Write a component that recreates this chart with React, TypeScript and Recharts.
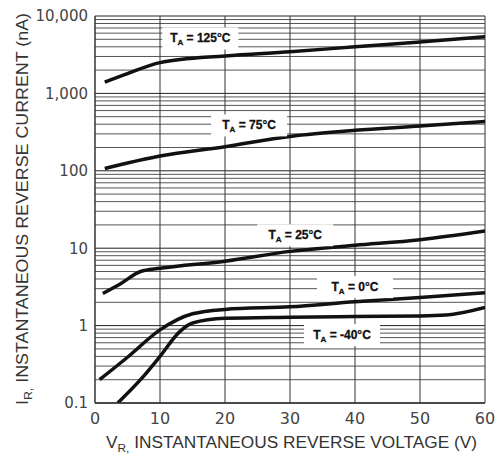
import React from "react";
import { LineChart, Line, XAxis, YAxis, ReferenceLine, ReferenceDot } from "recharts";

// Reverse current (nA) vs reverse voltage (V), one curve per ambient temperature.
const t125V = [1.5, 5, 10, 20, 30, 40, 50, 60];
const t125I = [1400, 1800, 2500, 3050, 3450, 4000, 4600, 5400];

const t75V = [1.5, 5, 10, 20, 30, 40, 50, 60];
const t75I = [107, 126, 155, 205, 278, 333, 378, 435];

const t25V = [1.2, 4, 7, 10, 20, 30, 40, 50, 60];
const t25I = [2.6, 3.5, 5, 5.5, 6.8, 9.1, 10.9, 12.9, 16.7];

const t0V = [0.7, 5, 10, 15, 20, 30, 40, 50, 60];
const t0I = [0.2, 0.39, 0.88, 1.42, 1.62, 1.75, 2.03, 2.3, 2.65];

const tm40V = [3.5, 7, 10, 13, 15, 20, 30, 40, 50, 54, 60];
const tm40I = [0.1, 0.2, 0.4, 0.83, 1.08, 1.24, 1.28, 1.31, 1.33, 1.37, 1.72];

const xTicks = [0, 10, 20, 30, 40, 50, 60];
const yTicks = [0.1, 1, 10, 100, 1000, 10000];
const minorMult = [2, 3, 4, 5, 6, 7, 8, 9];

// label text + where it sits (in data units)
const labelTemps = ["125", "75", "25", "0", "-40"];
const labelV = [16.2, 23.7, 30.8, 40, 38];
const labelI = [5130, 386, 14.7, 3.14, 0.754];

const series = [
  { key: "125", v: t125V, i: t125I },
  { key: "75", v: t75V, i: t75I },
  { key: "25", v: t25V, i: t25I },
  { key: "0", v: t0V, i: t0I },
  { key: "-40", v: tm40V, i: tm40I },
].map((s) => ({ key: s.key, data: s.v.map((v, k) => ({ v, i: s.i[k] })) }));

const minorLines: number[] = [];
for (let d = 0.1; d < 10000; d *= 10) {
  minorMult.forEach((m) => minorLines.push(+(d * m).toPrecision(3)));
}

const fmtY = (n: number) => (n >= 1000 ? n.toLocaleString("en-US") : String(n));

const FONT = "'DejaVu Sans', sans-serif";
const TITLE_FONT = "'Liberation Sans', Arial, sans-serif";

function TempLabel(props: any) {
  const { cx, cy, temp } = props;
  const w = 76;
  return (
    <g>
      <rect x={cx - w / 2} y={cy - 11} width={w} height={22} fill="#fff" />
      <text
        x={cx}
        y={cy + 4}
        textAnchor="middle"
        fontFamily="'Liberation Sans', Arial, sans-serif"
        fontWeight="bold"
        fontSize={12}
        fill="#111"
        stroke="#111"
        strokeWidth={0.3}
      >
        T<tspan fontSize={8} dy={3}>A</tspan>
        <tspan dy={-3}>{` = ${temp}°C`}</tspan>
      </text>
    </g>
  );
}

function XTitle() {
  return (
    <text
      x={106}
      y={448}
      textLength={371}
      lengthAdjust="spacingAndGlyphs"
      fontFamily={TITLE_FONT}
      fontSize={16}
      fill="#333"
    >
      V<tspan fontSize={11} dy={4}>R,</tspan>
      <tspan dy={-4}> INSTANTANEOUS REVERSE VOLTAGE (V)</tspan>
    </text>
  );
}

function YTitle() {
  const x = 28;
  const y = 405;
  return (
    <text
      x={x}
      y={y}
      transform={`rotate(-90, ${x}, ${y})`}
      textLength={392}
      lengthAdjust="spacingAndGlyphs"
      fontFamily={TITLE_FONT}
      fontSize={16}
      fill="#333"
    >
      I<tspan fontSize={11} dy={4}>R,</tspan>
      <tspan dy={-4}> INSTANTANEOUS REVERSE CURRENT (nA)</tspan>
    </text>
  );
}

export default function App() {
  return (
    <div style={{ position: "absolute", left: 0, top: 0, width: 501, height: 456, background: "#fff" }}>
      <LineChart width={501} height={456} margin={{ top: 16, right: 16, bottom: 0, left: 0 }}>
        <XAxis
          type="number"
          dataKey="v"
          domain={[0, 60]}
          ticks={xTicks}
          allowDataOverflow
          height={53}
          tickLine={false}
          tickSize={4}
          tickMargin={6}
          axisLine={{ stroke: "#333", strokeWidth: 1.5 }}
          tick={{ fontSize: 16, fill: "#444", fontFamily: FONT }}
          label={{ content: XTitle }}
        />
        <YAxis
          type="number"
          dataKey="i"
          scale="log"
          domain={[0.1, 10000]}
          ticks={yTicks}
          allowDataOverflow
          width={95}
          tickLine={false}
          tickSize={4}
          tickMargin={3}
          tickFormatter={fmtY}
          axisLine={{ stroke: "#333", strokeWidth: 1.5 }}
          tick={{ fontSize: 15, fill: "#444", fontFamily: FONT }}
          label={{ content: YTitle }}
        />

        {minorLines.map((y) => (
          <ReferenceLine key={"h" + y} y={y} stroke="#555" strokeWidth={1} />
        ))}
        {yTicks.map((y) => (
          <ReferenceLine key={"H" + y} y={y} stroke="#222" strokeWidth={1} />
        ))}
        {xTicks.slice(1).map((x) => (
          <ReferenceLine key={"v" + x} x={x} stroke="#333" strokeWidth={1} />
        ))}

        {labelTemps.map((t, k) => (
          <ReferenceDot
            key={"l" + t}
            x={labelV[k]}
            y={labelI[k]}
            r={0}
            shape={(p: any) => <TempLabel {...p} temp={t} />}
          />
        ))}

        {series.map((s) => (
          <Line
            key={s.key}
            data={s.data}
            dataKey="i"
            type="monotone"
            stroke="#111"
            strokeWidth={3.5}
            dot={false}
            isAnimationActive={false}
          />
        ))}
      </LineChart>
    </div>
  );
}
